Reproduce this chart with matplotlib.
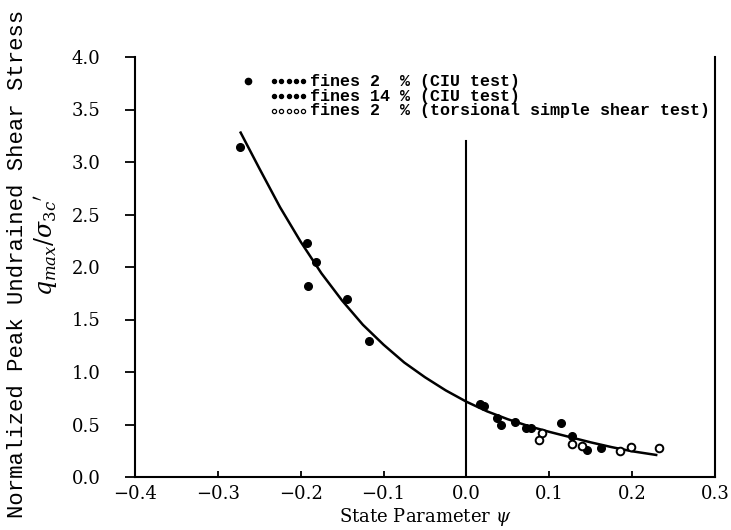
import numpy as np
import matplotlib.pyplot as plt

# data
ciu_f2_psi = [-0.273, -0.192, -0.181, -0.191, -0.144, -0.118]
ciu_f2_q = [3.14, 2.23, 2.05, 1.82, 1.70, 1.30]

ciu_f14_psi = [0.016, 0.021, 0.037, 0.042, 0.059, 0.072, 0.078, 0.114, 0.127, 0.145, 0.163]
ciu_f14_q = [0.70, 0.68, 0.56, 0.50, 0.52, 0.47, 0.47, 0.51, 0.39, 0.26, 0.28]

tss_psi = [0.091, 0.088, 0.128, 0.140, 0.185, 0.199, 0.233]
tss_q = [0.42, 0.35, 0.31, 0.30, 0.25, 0.29, 0.28]

# fitted trend line
fit_psi = [-0.2725, -0.25, -0.225, -0.20, -0.175, -0.15, -0.125, -0.10, -0.075, -0.05,
           -0.025, 0.0, 0.025, 0.05, 0.075, 0.10, 0.125, 0.15, 0.175, 0.20, 0.229]
fit_q = [3.28, 2.94, 2.57, 2.24, 1.94, 1.68, 1.45, 1.26, 1.09, 0.95,
         0.825, 0.717, 0.625, 0.55, 0.485, 0.43, 0.38, 0.33, 0.285, 0.245, 0.21]

legend_labels = ['fines 2  % (CIU test)',
                 'fines 14 % (CIU test)',
                 'fines 2  % (torsional simple shear test)']

xticks = [-0.4, -0.3, -0.2, -0.1, 0.0, 0.1, 0.2, 0.3]
yticks = [0.0, 0.5, 1.0, 1.5, 2.0, 2.5, 3.0, 3.5, 4.0]

plt.rcParams['font.family'] = 'DejaVu Serif'
plt.rcParams['mathtext.fontset'] = 'dejavuserif'

fig = plt.figure(figsize=(7.31, 5.30), dpi=100)
ax = fig.add_axes([135 / 731, 1 - 477 / 530, 580 / 731, 420 / 530])

ax.plot(fit_psi, fit_q, color='black', lw=1.8, zorder=2)
ax.plot(ciu_f2_psi, ciu_f2_q, 'o', color='black', ms=5.5, zorder=3)
ax.plot(ciu_f14_psi, ciu_f14_q, 'o', color='black', ms=5.5, zorder=3)
ax.plot(tss_psi, tss_q, 'o', mfc='white', mec='black', mew=1.4, ms=5.5, zorder=3)

# vertical line at psi = 0
ax.plot([0, 0], [0, 3.2], color='black', lw=1.5, zorder=1)

ax.set_xlim(-0.4, 0.3)
ax.set_ylim(0, 4.0)
ax.set_xticks(xticks)
ax.set_yticks(yticks)
ax.set_xticklabels([f'{t:.1f}'.replace('-', '\u2212') for t in xticks], fontsize=13)
ax.set_yticklabels([f'{t:.1f}' for t in yticks], fontsize=13)
ax.tick_params(axis='x', direction='in', length=4, width=1.3, pad=6)
ax.tick_params(axis='y', direction='out', length=7, width=1.3, pad=18)
ax.spines['top'].set_visible(False)
for s in ['left', 'right', 'bottom']:
    ax.spines[s].set_linewidth(1.5)

# hand-made legend
rows = [0.942, 0.907, 0.872]
styles = [dict(mfc='black', mec='black'), dict(mfc='black', mec='black'),
          dict(mfc='white', mec='black')]
ax.plot([0.195], [rows[0]], 'o', color='black', ms=4.5, transform=ax.transAxes)
for r, lab, st in zip(rows, legend_labels, styles):
    ax.plot(np.linspace(0.240, 0.290, 5), [r] * 5, 'o', ms=3, mew=0.9,
            transform=ax.transAxes, **st)
    ax.text(0.302, r, lab, transform=ax.transAxes, family='Liberation Mono',
            fontsize=12, fontweight='bold', va='center', ha='left')

ax.set_xlabel(r'State Parameter $\psi$', fontsize=13, labelpad=2)
fig.text(18 / 731, 1 - 264 / 530, 'Normalized Peak Undrained Shear Stress',
         rotation=90, va='center', ha='center', family='Liberation Mono', fontsize=16)
fig.text(47 / 731, 1 - 245 / 530, r"$q_{max}/\sigma_{3c}{}'$",
         rotation=90, va='center', ha='center', fontsize=17)

fig.savefig('out.png', dpi=100)
